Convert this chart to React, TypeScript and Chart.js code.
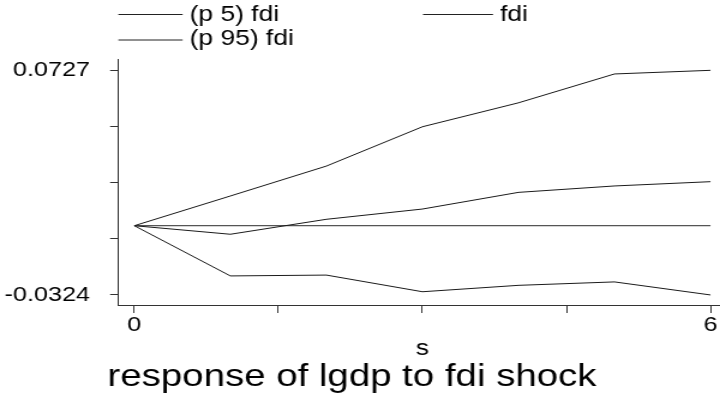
import React, { useEffect, useRef } from 'react';
import { Chart, registerables } from 'chart.js';

Chart.register(...registerables);

// Impulse response of lgdp to an fdi shock, with 5% / 95% bands
const steps = [0, 1, 2, 3, 4, 5, 6];
const p5Band = [0, -0.0235, -0.0231, -0.0309, -0.0279, -0.0263, -0.0324];
const irfFdi = [0, -0.004, 0.003, 0.0078, 0.0156, 0.0186, 0.0206];
const p95Band = [0, 0.0139, 0.0279, 0.0463, 0.0575, 0.071, 0.0727];
const zeroLine = [0, 0, 0, 0, 0, 0, 0];

const yTicks = [-0.0324, -0.006125, 0.02015, 0.046425, 0.0727];
const yTickLabels = ['-0.0324', '', '', '', '0.0727'];
const xTicks = [0, 1.5, 3, 4.5, 6];
const xTickLabels = ['0', '', '', '', '6'];

const legendLabels = ['(p 5) fdi', 'fdi', '(p 95) fdi'];
const xTitle = 's';
const chartTitle = 'response of lgdp to fdi shock';

const FONT = "'Liberation Sans', Arial, sans-serif";
// The graph is laid out on a 600px-wide canvas and shown 720px wide.
const CANVAS_W = 600;
const CANVAS_H = 400;

const textPlugin = {
  id: 'graphText',
  afterDraw(chart: any) {
    const ctx = chart.ctx as CanvasRenderingContext2D;
    ctx.save();
    ctx.strokeStyle = '#222';
    ctx.lineWidth = 1;
    const seg = (x1: number, x2: number, y: number) => {
      ctx.beginPath();
      ctx.moveTo(x1, y);
      ctx.lineTo(x2, y);
      ctx.stroke();
    };
    // legend
    ctx.fillStyle = '#000';
    ctx.font = `22px ${FONT}`;
    ctx.textBaseline = 'middle';
    ctx.textAlign = 'left';
    seg(98.6, 152.2, 14.5);
    ctx.fillText(legendLabels[0], 158, 15);
    seg(352.5, 410.8, 14.5);
    ctx.fillText(legendLabels[1], 416.7, 15);
    seg(98.6, 152.2, 40);
    ctx.fillText(legendLabels[2], 158, 38.5);

    // axis title
    ctx.textBaseline = 'alphabetic';
    ctx.textAlign = 'center';
    ctx.font = `22px ${FONT}`;
    ctx.fillText(xTitle, chart.scales.x.getPixelForValue(3), 355);

    // graph title
    ctx.font = `32px ${FONT}`;
    ctx.fillText(chartTitle, 293.3, 386);
    ctx.restore();
  },
};

export default function App() {
  const canvasRef = useRef<HTMLCanvasElement | null>(null);

  useEffect(() => {
    const canvas = canvasRef.current;
    if (!canvas) return;
    const line = (label: string, data: number[], color: string, width: number) => ({
      label,
      data: steps.map((s, i) => ({ x: s, y: data[i] })),
      borderColor: color,
      borderWidth: width,
      pointRadius: 0,
      tension: 0,
      fill: false,
    });
    const chart = new Chart(canvas, {
      type: 'line',
      data: {
        datasets: [
          line(legendLabels[0], p5Band, '#1a1a1a', 1),
          line(legendLabels[1], irfFdi, '#1a1a1a', 1),
          line(legendLabels[2], p95Band, '#1a1a1a', 1),
          line('zero', zeroLine, '#555', 1.3),
        ],
      },
      options: {
        animation: false,
        responsive: false,
        devicePixelRatio: 1,
        layout: { padding: { top: 59, left: 0, right: 0, bottom: 0 } },
        plugins: {
          legend: { display: false },
          title: { display: false },
          tooltip: { enabled: false },
        },
        scales: {
          x: {
            type: 'linear',
            min: -0.1646,
            max: 6.099,
            afterBuildTicks: (scale: any) => {
              scale.ticks = xTicks.map((v) => ({ value: v }));
            },
            afterFit: (scale: any) => {
              scale.height = 95;
            },
            grid: {
              drawOnChartArea: false,
              drawTicks: true,
              tickLength: 8,
              tickColor: '#333',
              tickWidth: 1,
            },
            border: { display: true, color: '#333', width: 1 },
            ticks: {
              autoSkip: false,
              maxRotation: 0,
              padding: 0,
              color: '#000',
              font: { family: FONT, size: 21 },
              callback: (_v: any, i: number) => xTickLabels[i],
            },
          },
          y: {
            type: 'linear',
            min: -0.0371,
            max: 0.078,
            afterBuildTicks: (scale: any) => {
              scale.ticks = yTicks.map((v) => ({ value: v }));
            },
            afterFit: (scale: any) => {
              scale.width = 98.75;
            },
            grid: {
              drawOnChartArea: false,
              drawTicks: true,
              tickLength: 7,
              tickColor: '#333',
              tickWidth: 1,
            },
            border: { display: true, color: '#333', width: 1 },
            ticks: {
              autoSkip: false,
              padding: 16.75,
              color: '#000',
              font: { family: FONT, size: 21 },
              callback: (_v: any, i: number) => yTickLabels[i],
            },
          },
        },
      },
      plugins: [textPlugin],
    });
    return () => chart.destroy();
  }, []);

  return (
    <div style={{ position: 'absolute', left: 0, top: 0, width: 720, height: 400, background: '#fff' }}>
      <canvas
        ref={canvasRef}
        width={CANVAS_W}
        height={CANVAS_H}
        style={{ width: '720px', height: '400px', display: 'block' }}
      />
    </div>
  );
}
